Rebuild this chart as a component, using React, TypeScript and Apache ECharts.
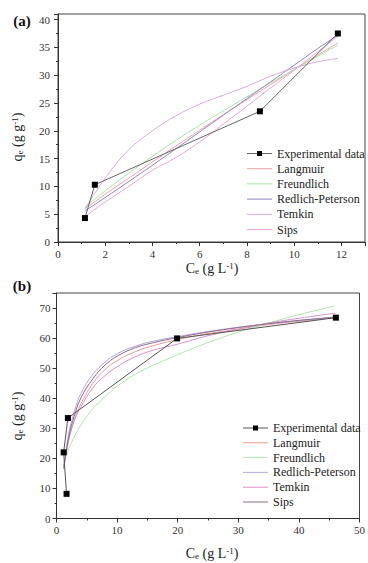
import React, { useEffect, useRef } from "react";
import * as echarts from "echarts";

// ---------- Panel (a) data ----------
const expAX = [1.14, 1.56, 8.55, 11.85];
const expAY = [4.3, 10.3, 23.5, 37.5];
const fitAX = [1.15, 2, 3, 4, 5, 6, 7, 8, 9, 10, 11, 11.85];
const langmuirA = [6.0, 8.6, 11.5, 14.4, 17.3, 20.1, 22.9, 25.6, 28.3, 31.0, 33.6, 35.8];
const freundlichA = [6.3, 9.2, 12.4, 15.4, 18.3, 21.0, 23.6, 26.1, 28.6, 31.0, 33.4, 35.4];
const redlichA = [5.6, 8.0, 10.9, 13.8, 16.8, 19.8, 22.8, 25.8, 28.8, 31.8, 34.8, 37.2];
const temkinA = [6.0, 11.5, 16.6, 20.0, 22.7, 24.8, 26.4, 28.0, 29.8, 31.3, 32.4, 33.0];
const sipsA = [4.6, 7.2, 10.0, 12.9, 15.2, 18.0, 21.2, 24.4, 27.7, 30.9, 34.2, 37.0];

// ---------- Panel (b) data ----------
const expBX = [1.66, 1.18, 1.88, 19.9, 46.1];
const expBY = [8.2, 22.0, 33.4, 59.9, 66.8];
const fitBX = [1.2, 2, 3, 4, 6, 8, 10, 13, 16, 20, 25, 30, 35, 40, 46];
const langmuirB = [17, 26, 33, 38, 45, 49.5, 52.5, 55.5, 57.5, 59.5, 61.5, 63, 64.5, 65.6, 66.8];
const freundlichB = [18, 23, 27.5, 31, 36.5, 40.5, 44, 48, 51, 54.5, 58.5, 62, 65, 67.8, 70.7];
const redlichB = [17, 28, 36, 41.5, 48, 52, 54.8, 57.3, 59, 60.5, 62.2, 63.6, 64.8, 65.8, 66.9];
const temkinB = [17, 26, 33, 37, 43.5, 47.5, 50.5, 53.8, 56, 58, 60.8, 63, 65, 66.6, 68.3];
const sipsB = [16.5, 27, 34.5, 40, 46.5, 51, 54, 56.8, 58.5, 60.2, 62, 63.5, 64.8, 65.9, 67];

// ---------- labels ----------
const legendNames = ["Experimental data", "Langmuir", "Freundlich", "Redlich-Peterson", "Temkin", "Sips"];
const colorsA = ["#666666", "#f2a0a8", "#a8e4a8", "#8a88c0", "#d4acd8", "#e8a8d8"];
const colorsB = ["#555555", "#f29898", "#b0e4b0", "#b4a8e0", "#d890cc", "#8a6a8a"];

const FONT = "Liberation Serif";

const pairs = (xs: number[], ys: number[]) => xs.map((x, i) => [x, ys[i]]);

function axisCommon(gridIndex: number, min: number, max: number, interval: number, margin: number) {
  return {
    type: "value",
    gridIndex,
    min,
    max,
    interval,
    axisLine: { show: true, onZero: false, lineStyle: { color: "#333", width: 1 } },
    axisTick: { show: true, inside: false, length: 4, lineStyle: { color: "#333" } },
    minorTick: { show: true, splitNumber: 2, length: 2, lineStyle: { color: "#333" } },
    splitLine: { show: false },
    minorSplitLine: { show: false },
    axisLabel: {
      fontFamily: FONT,
      fontSize: 11,
      color: "#333",
      margin,
      formatter: (v: number) => (Math.abs(v / interval - Math.round(v / interval)) < 1e-6 ? String(v) : ""),
    },
  };
}

function legendGraphics(x0: number, y0: number, step: number, colors: string[]) {
  const els: any[] = [];
  legendNames.forEach((name, i) => {
    const y = y0 + i * step;
    els.push({
      type: "line",
      shape: { x1: x0, y1: y, x2: x0 + 25, y2: y },
      style: { stroke: colors[i], lineWidth: 1 },
    });
    if (i === 0) {
      els.push({
        type: "rect",
        shape: { x: x0 + 10, y: y - 2.5, width: 5, height: 5 },
        style: { fill: "#000" },
      });
    }
    els.push({
      type: "text",
      x: x0 + 30,
      y,
      style: {
        text: name,
        fontFamily: FONT,
        fontSize: 12,
        fill: "#222",
        align: "left",
        verticalAlign: "middle",
      },
    });
  });
  return els;
}

const rich = {
  m: { fontFamily: FONT, fontSize: 14, lineHeight: 14, fill: "#222" },
  s: { fontFamily: FONT, fontSize: 9, lineHeight: 8, verticalAlign: "bottom", fill: "#222" },
  p: { fontFamily: FONT, fontSize: 9, lineHeight: 8, verticalAlign: "top", fill: "#222" },
};

function titleText(x: number, y: number, text: string, rotation = 0) {
  return {
    type: "text",
    x,
    y,
    rotation,
    style: {
      text,
      rich,
      fontFamily: FONT,
      fontSize: 14,
      fill: "#222",
      align: "center",
      verticalAlign: "middle",
    },
  };
}

function fitSeries(name: string, xs: number[], ys: number[], color: string, idx: number) {
  return {
    type: "line",
    name,
    xAxisIndex: idx,
    yAxisIndex: idx,
    data: pairs(xs, ys),
    smooth: 0.4,
    symbol: "none",
    lineStyle: { color, width: 1 },
    z: 2,
  };
}

export default function App() {
  const ref = useRef<HTMLDivElement>(null);
  useEffect(() => {
    if (!ref.current) return;
    const chart = echarts.init(ref.current, null, { renderer: "svg" });
    const option: any = {
      animation: false,
      backgroundColor: "#fff",
      textStyle: { fontFamily: FONT },
      grid: [
        { left: 58, top: 14, width: 312, height: 228, show: true, borderColor: "#444", borderWidth: 1, backgroundColor: "transparent" },
        { left: 56.5, top: 293, width: 306, height: 225.5, show: true, borderColor: "#444", borderWidth: 1, backgroundColor: "transparent" },
      ],
      xAxis: [axisCommon(0, 0, 13, 2, 6), axisCommon(1, 0, 50, 10, 6)],
      yAxis: [axisCommon(0, 0, 41, 5, 8), axisCommon(1, 0, 75, 10, 6)],
      series: [
        fitSeries("Langmuir", fitAX, langmuirA, colorsA[1], 0),
        fitSeries("Freundlich", fitAX, freundlichA, colorsA[2], 0),
        fitSeries("Redlich-Peterson", fitAX, redlichA, colorsA[3], 0),
        fitSeries("Temkin", fitAX, temkinA, colorsA[4], 0),
        fitSeries("Sips", fitAX, sipsA, colorsA[5], 0),
        {
          type: "line",
          name: "Experimental data",
          xAxisIndex: 0,
          yAxisIndex: 0,
          data: pairs(expAX, expAY),
          symbol: "rect",
          symbolSize: 6,
          itemStyle: { color: "#000" },
          lineStyle: { color: colorsA[0], width: 1 },
          z: 3,
        },
        fitSeries("Langmuir", fitBX, langmuirB, colorsB[1], 1),
        fitSeries("Freundlich", fitBX, freundlichB, colorsB[2], 1),
        fitSeries("Redlich-Peterson", fitBX, redlichB, colorsB[3], 1),
        fitSeries("Temkin", fitBX, temkinB, colorsB[4], 1),
        fitSeries("Sips", fitBX, sipsB, colorsB[5], 1),
        {
          type: "line",
          name: "Experimental data",
          xAxisIndex: 1,
          yAxisIndex: 1,
          data: pairs(expBX, expBY),
          symbol: "rect",
          symbolSize: 6,
          itemStyle: { color: "#000" },
          lineStyle: { color: colorsB[0], width: 1 },
          z: 3,
        },
      ],
      graphic: [
        {
          type: "text",
          x: 22,
          y: 21,
          style: { text: "(a)", fontFamily: FONT, fontSize: 15, fontWeight: "bold", fill: "#111", align: "center", verticalAlign: "middle" },
        },
        {
          type: "text",
          x: 22,
          y: 286,
          style: { text: "(b)", fontFamily: FONT, fontSize: 15, fontWeight: "bold", fill: "#111", align: "center", verticalAlign: "middle" },
        },
        titleText(212, 268, "{m|C}{s|e}{m| (g L}{p|-1}{m|)}"),
        titleText(212, 553, "{m|C}{s|e}{m| (g L}{p|-1}{m|)}"),
        titleText(17, 137, "{m|q}{s|e}{m| (g g}{p|-1}{m|)}", Math.PI / 2),
        titleText(17, 416, "{m|q}{s|e}{m| (g g}{p|-1}{m|)}", Math.PI / 2),
        ...legendGraphics(247, 153.5, 15.2, colorsA),
        ...legendGraphics(243, 428, 14.8, colorsB),
      ],
    };
    chart.setOption(option);
    return () => chart.dispose();
  }, []);
  return (
    <div
      ref={ref}
      style={{ position: "absolute", left: 0, top: 0, width: 368, height: 563, background: "#fff" }}
    />
  );
}
